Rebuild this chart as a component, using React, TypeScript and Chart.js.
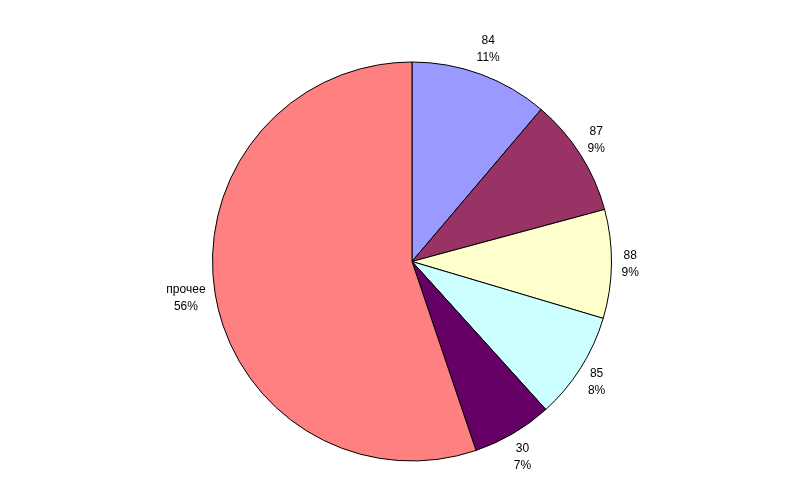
import React, { useEffect, useRef } from "react";
import { Chart, registerables } from "chart.js";

Chart.register(...registerables);

const categories = ["84", "87", "88", "85", "30", "прочее"];
const values = [11.2, 9.6, 8.8, 8.7, 6.5, 55.2];
const percentLabels = ["11%", "9%", "9%", "8%", "7%", "56%"];
const colors = ["#9999FF", "#993366", "#FFFFCC", "#CCFFFF", "#660066", "#FF8080"];

const labelPlugin = {
  id: "outsideLabels",
  afterDatasetsDraw(chart: any) {
    const ctx = chart.ctx;
    const meta = chart.getDatasetMeta(0);
    ctx.save();
    ctx.font = "12px 'Liberation Sans', Arial, sans-serif";
    ctx.fillStyle = "#000";
    ctx.textAlign = "center";
    ctx.textBaseline = "middle";
    const lineH = 17;
    meta.data.forEach((arc: any, i: number) => {
      const { x, y, startAngle, endAngle, outerRadius } = arc.getProps(
        ["x", "y", "startAngle", "endAngle", "outerRadius"],
        true
      );
      const mid = (startAngle + endAngle) / 2;
      const dx = Math.cos(mid);
      const dy = Math.sin(mid);
      const w = Math.max(ctx.measureText(categories[i]).width, ctx.measureText(percentLabels[i]).width);
      const h = lineH * 2;
      const gap = 10;
      const cx = x + dx * (outerRadius + gap) + dx * (w / 2);
      const cy = y + dy * (outerRadius + gap) + dy * (h / 2);
      ctx.fillText(categories[i], cx, cy - lineH / 2);
      ctx.fillText(percentLabels[i], cx, cy + lineH / 2);
    });
    ctx.restore();
  },
};

export default function App() {
  const ref = useRef<HTMLCanvasElement>(null);
  useEffect(() => {
    if (!ref.current) return;
    const chart = new Chart(ref.current, {
      type: "pie",
      data: {
        labels: categories,
        datasets: [
          {
            data: values,
            backgroundColor: colors,
            borderColor: "#000000",
            borderWidth: 1,
          },
        ],
      },
      options: {
        animation: false,
        responsive: false,
        layout: { padding: { top: 61, bottom: 36, left: 212, right: 188 } },
        plugins: {
          legend: { display: false },
          tooltip: { enabled: false },
        },
      },
      plugins: [labelPlugin],
    });
    return () => chart.destroy();
  }, []);
  return (
    <div style={{ position: "fixed", left: 0, top: 0, width: 800, height: 498, background: "#fff" }}>
      <canvas ref={ref} width={800} height={498} />
    </div>
  );
}
